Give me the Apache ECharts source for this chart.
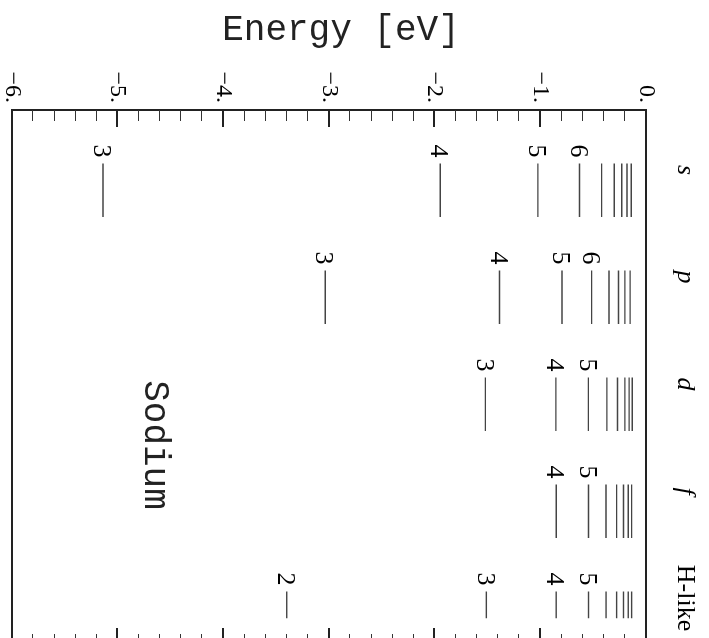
<!DOCTYPE html>
<html>
<head>
<meta charset="utf-8">
<script src="https://cdn.jsdelivr.net/npm/echarts@6/dist/echarts.min.js"></script>
<style>
  html, body { margin: 0; padding: 0; width: 709px; height: 638px; overflow: hidden; background: #fff; }
  #chart { position: absolute; left: 0; top: 0; width: 660px; height: 709px;
           transform-origin: 0 0; transform: translate(709px, 0) rotate(90deg); }
</style>
</head>
<body>
<div id="chart"></div>
<script>
// Column names (orbital series)
const columns = ['s', 'p', 'd', 'f', 'H-like'];
// Level energies in eV
const sLevels = [-5.139, -1.947, -1.023, -0.630, -0.42, -0.30, -0.23, -0.18, -0.14];
const sLabels = ['3', '4', '5', '6'];
const pLevels = [-3.035, -1.386, -0.795, -0.515, -0.35, -0.26, -0.20, -0.15];
const pLabels = ['3', '4', '5', '6'];
const dLevels = [-1.52, -0.853, -0.545, -0.37, -0.27, -0.20, -0.16, -0.13];
const dLabels = ['3', '4', '5'];
const fLevels = [-0.85, -0.544, -0.378, -0.278, -0.213, -0.168, -0.136];
const fLabels = ['4', '5'];
const hLevels = [-3.40, -1.511, -0.85, -0.544, -0.378, -0.278, -0.213, -0.168, -0.136];
const hLabels = ['2', '3', '4', '5'];
// Energy axis ticks
const energyMin = -6, energyMax = 0, energyStep = 1;

const serif = '"Liberation Serif", "Times New Roman", serif';
const mono = '"Liberation Mono", "Courier New", monospace';

const groups = [
  [sLevels, sLabels, 0.5],
  [pLevels, pLabels, 0.5],
  [dLevels, dLabels, 0.5],
  [fLevels, fLabels, 0.5],
  [hLevels, hLabels, 0.25]
];
const levelData = [];
const levelText = [];
groups.forEach((g, ci) => {
  g[0].forEach((e, i) => {
    levelData.push([ci, e, g[2]]);
    levelText.push(g[1][i] || '');
  });
});

const chart = echarts.init(document.getElementById('chart'), null, { renderer: 'canvas' });
chart.setOption({
  animation: false,
  backgroundColor: '#fff',
  grid: { left: 110, right: 15, top: 63, bottom: 8, show: true, borderColor: '#222', borderWidth: 2, containLabel: false },
  xAxis: [
    { type: 'value', min: 0, max: 5, show: false },
    { type: 'category', data: columns, position: 'top', boundaryGap: true,
      axisLine: { show: false }, axisTick: { show: false }, splitLine: { show: false },
      axisLabel: {
        margin: 26, padding: [0, 0, 0, 13],
        formatter: v => v === 'H-like' ? '{rm|' + v + '}' : '{it|' + v + '}',
        rich: {
          it: { fontFamily: serif, fontStyle: 'italic', fontSize: 26, color: '#000' },
          rm: { fontFamily: serif, fontSize: 26, color: '#000' }
        }
      } }
  ],
  yAxis: [
    { type: 'value', min: energyMin, max: energyMax, interval: energyStep, position: 'left',
      axisLine: { show: true, lineStyle: { color: '#222', width: 2 } },
      axisTick: { show: true, inside: true, length: 17, lineStyle: { color: '#222', width: 2 } },
      minorTick: { show: true, splitNumber: 5, length: 11, lineStyle: { color: '#333', width: 1 } },
      splitLine: { show: false },
      axisLabel: { margin: 7, fontFamily: serif, fontSize: 24, color: '#000',
        formatter: v => v === 0 ? '0.' : '\u2212' + Math.abs(v) + '.' } },
    { type: 'value', min: energyMin, max: energyMax, interval: energyStep, position: 'right',
      axisLine: { show: true, lineStyle: { color: '#222', width: 2 } },
      axisTick: { show: true, inside: true, length: 17, lineStyle: { color: '#222', width: 2 } },
      minorTick: { show: true, splitNumber: 5, length: 11, lineStyle: { color: '#333', width: 1 } },
      splitLine: { show: false }, axisLabel: { show: false } }
  ],
  graphic: [
    { type: 'text', x: 30, y: 368, rotation: Math.PI / 2,
      style: { text: 'Energy [eV]', fontFamily: mono, fontSize: 36, fill: '#222', align: 'center', verticalAlign: 'middle' } },
    { type: 'text', x: 445, y: 554,
      style: { text: 'Sodium', fontFamily: mono, fontSize: 36, fill: '#222', align: 'center', verticalAlign: 'middle' } }
  ],
  series: [{
    type: 'custom',
    xAxisIndex: 0, yAxisIndex: 0,
    data: levelData,
    renderItem: function (params, api) {
      const col = api.value(0), e = api.value(1), w = api.value(2);
      const a = api.coord([col + 0.5, e]);
      const b = api.coord([col + 0.5 + w, e]);
      const children = [{
        type: 'line',
        shape: { x1: a[0], y1: a[1], x2: b[0], y2: b[1] },
        style: { stroke: '#444', lineWidth: 1.4 }
      }];
      const t = levelText[params.dataIndex];
      if (t) {
        children.push({
          type: 'text',
          x: a[0] - 6, y: a[1] + 2,
          style: { text: t, fontFamily: serif, fontSize: 26, fill: '#000', align: 'right', verticalAlign: 'middle' }
        });
      }
      return { type: 'group', children: children };
    }
  }]
});
</script>
</body>
</html>
